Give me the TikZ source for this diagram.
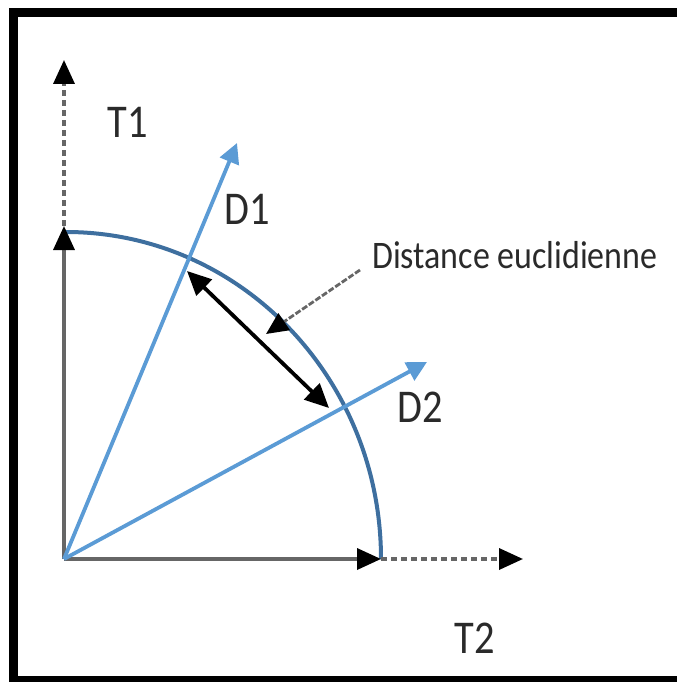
\documentclass[tikz,border=0pt]{standalone}
\usepackage{fontspec}
\setmainfont{Carlito}
\usetikzlibrary{arrows.meta}
\definecolor{vecblue}{HTML}{5B9BD5}
\definecolor{arcblue}{HTML}{3E6F9F}
\definecolor{axisgray}{HTML}{666666}
\definecolor{txt}{HTML}{2A2A2A}
\tikzset{
  axisline/.style={draw=axisgray, line width=3.5pt, -{Triangle[length=24pt,width=21pt,fill=black,color=black]}},
  dashaxis/.style={draw=axisgray, line width=3.5pt, dash pattern=on 6pt off 4pt, -{Triangle[length=24pt,width=21pt,fill=black,color=black]}},
  vecline/.style={draw=vecblue, line width=3.8pt, -{Triangle[length=20pt,width=20pt]}},
  distline/.style={draw=black, line width=3.8pt, {Triangle[length=24pt,width=22pt]}-{Triangle[length=24pt,width=22pt]}},
  noteline/.style={draw=axisgray, line width=2.8pt, dash pattern=on 6pt off 2pt, -{Triangle[length=22pt,width=20pt,fill=black,color=black]}},
  bigtxt/.style={text=txt, inner sep=0pt, font=\fontsize{47}{47}\selectfont},
  notetxt/.style={text=txt, inner sep=0pt, font=\fontsize{39}{39}\selectfont},
}
\begin{document}
\begin{tikzpicture}[x=1pt, y=-1pt]
\useasboundingbox (0,0) rectangle (677,682);
% frame
\fill[black] (9,8) rectangle (677,17);
\fill[black] (9,8) rectangle (18,682);
\fill[black] (9,676) rectangle (677,682);
% points
\coordinate (O) at (64,559);
\coordinate (T1a) at (64,226);
\coordinate (T1b) at (64,60);
\coordinate (T2a) at (381,559);
\coordinate (T2b) at (523,559);
\coordinate (D1) at (237,143);
\coordinate (D2) at (427,362);
\coordinate (E1) at (187,271);
\coordinate (E2) at (329,408);
\coordinate (N0) at (360,270);
\coordinate (N1) at (266,334);
% arc
\draw[arcblue, line width=4pt] (66,232) arc[start angle=90, end angle=0, x radius=315, y radius=-327];
% axes
\draw[axisline] (O) -- (T1a);
\draw[dashaxis] (T1a) -- (T1b);
\draw[axisline] (O) -- (T2a);
\draw[dashaxis] (T2a) -- (T2b);
% vectors
\draw[vecline] (O) -- (D1);
\draw[vecline] (O) -- (D2);
% distance
\draw[distline] (E1) -- (E2);
\draw[noteline] (N0) -- (N1);
% labels
\node[bigtxt] (lT1) at (128,122) {\scalebox{0.86}[1]{T1}};
\node[bigtxt] (lD1) at (247,209) {\scalebox{0.86}[1]{D1}};
\node[bigtxt] (lD2) at (420,407) {\scalebox{0.86}[1]{D2}};
\node[bigtxt] (lT2) at (475,638) {\scalebox{0.86}[1]{T2}};
\node[notetxt, anchor=base west] (note) at (372,268) {\scalebox{0.87}[1]{Distance euclidienne}};
\end{tikzpicture}
\end{document}
